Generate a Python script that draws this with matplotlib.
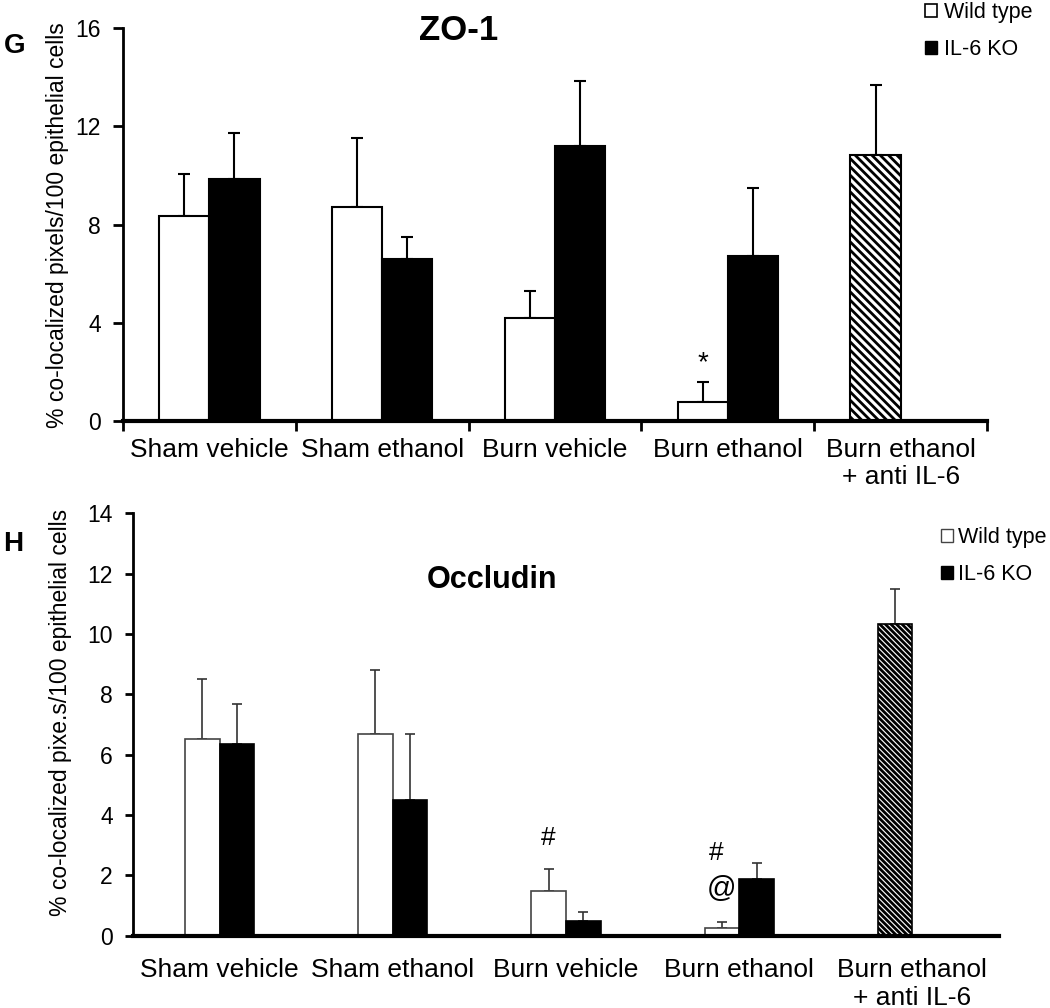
import matplotlib
matplotlib.use('Agg')
import matplotlib.pyplot as plt
from matplotlib.patches import Patch
import numpy as np

plt.rcParams['font.family'] = ['Liberation Sans', 'DejaVu Sans']

categories = ['Sham vehicle', 'Sham ethanol', 'Burn vehicle', 'Burn ethanol',
              'Burn ethanol\n+ anti IL-6']
series_names = ['Wild type', 'IL-6 KO']

# ZO-1 panel (G)
zo1_wt = [8.37, 8.71, 4.19, 0.79]
zo1_wt_err = [1.71, 2.82, 1.12, 0.80]
zo1_ko = [9.84, 6.62, 11.19, 6.71]
zo1_ko_err = [1.91, 0.87, 2.66, 2.78]
zo1_anti = 10.82
zo1_anti_err = 2.89
zo1_yticks = [0, 4, 8, 12, 16]

# Occludin panel (H)
occ_wt = [6.51, 6.70, 1.49, 0.27]
occ_wt_err = [1.99, 2.11, 0.71, 0.19]
occ_ko = [6.36, 4.49, 0.49, 1.88]
occ_ko_err = [1.33, 2.21, 0.30, 0.52]
occ_anti = 10.32
occ_anti_err = 1.16
occ_yticks = [0, 2, 4, 6, 8, 10, 12, 14]

W, H = 1050, 1008
fig = plt.figure(figsize=(W / 100, H / 100), dpi=100)


def fx(px):
    return px / W


def fy(py):
    return 1 - py / H


def draw(ax, wt, wt_err, ko, ko_err, anti, anti_err, w, edge_lw, err_lw, cap,
         wt_edge, hatch, err_color):
    x = np.arange(len(categories)) + 0.5
    n = len(wt)
    xw = x[:n] - w / 2
    xk = x[:n] + w / 2
    ax.bar(xw, wt, w, color='white', edgecolor=wt_edge, linewidth=edge_lw, zorder=2)
    ax.bar(xk, ko, w, color='black', edgecolor='black', linewidth=edge_lw, zorder=2)
    ax.bar([x[4] - w / 2], [anti], w, color='white', edgecolor='black',
           linewidth=edge_lw, hatch=hatch, zorder=2)
    for xs, ys, es in ((xw, wt, wt_err), (xk, ko, ko_err),
                       ([x[4] - w / 2], [anti], [anti_err])):
        ax.errorbar(xs, ys, yerr=[np.zeros(len(es)), es], fmt='none',
                    ecolor=err_color, elinewidth=err_lw, capsize=cap,
                    capthick=err_lw, zorder=1)
    ax.set_xlim(0, len(categories))
    for s in ('top', 'right'):
        ax.spines[s].set_visible(False)
    return x


# ---------- Panel G ----------
plt.rcParams['hatch.linewidth'] = 2.0
ax1 = fig.add_axes([fx(123), fy(421), fx(987) - fx(123), fy(28.3) - fy(421)])
x = draw(ax1, zo1_wt, zo1_wt_err, zo1_ko, zo1_ko_err, zo1_anti, zo1_anti_err,
         0.29, 1.5, 1.5, 4.5, 'black', '\\\\\\\\', 'black')
ax1.set_ylim(0, 16)
ax1.set_yticks(zo1_yticks)
ax1.tick_params(axis='y', direction='out', length=7, width=2, labelsize=16.5, pad=9)
ax1.set_xticks(np.arange(len(categories) + 1))
ax1.set_xticklabels([''] * (len(categories) + 1))
ax1.set_xticks(x, minor=True)
ax1.set_xticklabels(categories, minor=True, fontsize=19, va='top')
ax1.tick_params(axis='x', which='major', direction='out', length=7, width=2)
ax1.tick_params(axis='x', which='minor', length=0, pad=12)
ax1.spines['bottom'].set_linewidth(3)
ax1.spines['left'].set_linewidth(2)
ax1.set_ylabel('% co-localized pixels/100 epithelial cells', fontsize=16.5)
ax1.yaxis.set_label_coords(-0.063, 0.5)
ax1.text(x[3] - 0.145, 2.35, '*', ha='center', va='center', fontsize=20)
leg1 = ax1.legend(handles=[Patch(facecolor='white', edgecolor='black', linewidth=1.2),
                           Patch(facecolor='black', edgecolor='black')],
                  labels=series_names, loc='upper left',
                  bbox_to_anchor=(fx(925), fy(2)), bbox_transform=fig.transFigure,
                  frameon=False, fontsize=15.5, handlelength=0.55, handleheight=0.6,
                  handletextpad=0.35, labelspacing=0.75, borderpad=0, borderaxespad=0)

# ---------- Panel H ----------
ax2 = fig.add_axes([fx(133), fy(935.7), fx(999) - fx(133), fy(513.3) - fy(935.7)])
x2 = draw(ax2, occ_wt, occ_wt_err, occ_ko, occ_ko_err, occ_anti, occ_anti_err,
          0.2, 1.2, 1.2, 3.5, '#444444', '\\\\\\\\\\\\', '#333333')
ax2.set_ylim(0, 14)
ax2.set_yticks(occ_yticks)
ax2.tick_params(axis='y', direction='out', length=6, width=2, labelsize=16.5, pad=8.5)
ax2.set_xticks(x2)
ax2.set_xticklabels(categories, fontsize=19, va='top')
ax2.tick_params(axis='x', length=0, pad=16)
ax2.spines['bottom'].set_linewidth(3)
ax2.spines['left'].set_linewidth(2)
ax2.set_ylabel('% co-localized pixe.s/100 epithelial cells', fontsize=16.5)
ax2.yaxis.set_label_coords(-0.07, 0.528)
ax2.text(x2[2] - 0.1, 3.25, '#', ha='center', va='center', fontsize=19)
ax2.text(x2[3] - 0.13, 2.75, '#', ha='center', va='center', fontsize=19)
ax2.text(x2[3] - 0.1, 1.55, '@', ha='center', va='center', fontsize=21)
leg2 = ax2.legend(handles=[Patch(facecolor='white', edgecolor='#444444', linewidth=1.0),
                           Patch(facecolor='black', edgecolor='black')],
                  labels=series_names, loc='upper left',
                  bbox_to_anchor=(fx(941), fy(527)), bbox_transform=fig.transFigure,
                  frameon=False, fontsize=15.5, handlelength=0.55, handleheight=0.6,
                  handletextpad=0.25, labelspacing=0.75, borderpad=0, borderaxespad=0)

# Titles and panel letters
fig.text(fx(459), fy(30), 'ZO-1', ha='center', va='center', fontsize=25, fontweight='bold')
fig.text(fx(492), fy(580), 'Occludin', ha='center', va='center', fontsize=22, fontweight='bold')
fig.text(fx(15), fy(46), 'G', ha='center', va='center', fontsize=20, fontweight='bold')
fig.text(fx(13), fy(544), 'H', ha='center', va='center', fontsize=20, fontweight='bold')

fig.savefig('out.png', dpi=100)
